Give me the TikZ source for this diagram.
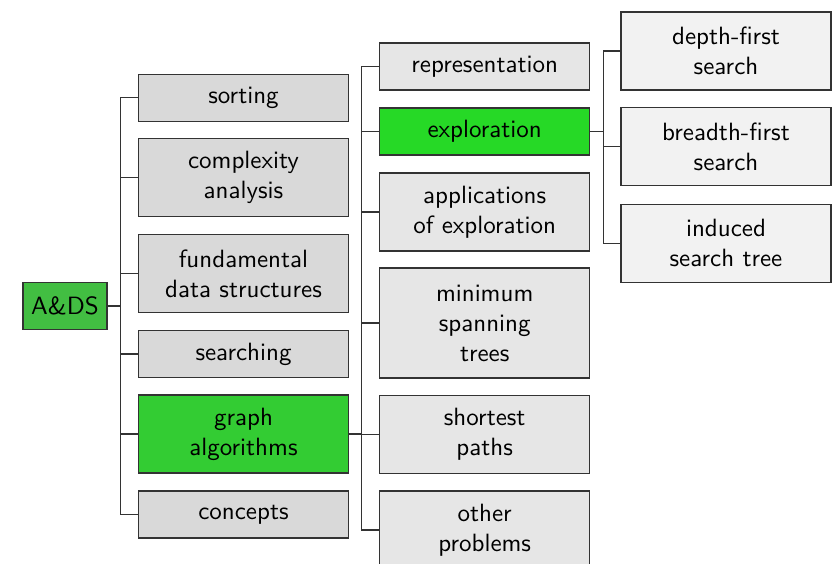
\documentclass[tikz,border=0pt]{standalone}
\usetikzlibrary{calc}
\definecolor{gA}{RGB}{66,190,66}
\definecolor{gB}{RGB}{51,204,51}
\definecolor{gC}{RGB}{38,217,38}
\definecolor{grA}{RGB}{217,217,217}
\definecolor{grB}{RGB}{230,230,230}
\definecolor{grC}{RGB}{242,242,242}
\begin{document}
\begin{tikzpicture}[x=0.4pt,y=-0.4pt,
  font=\sffamily\fontsize{10}{12}\selectfont,
  box/.style={draw=black!80,line width=0.45pt,inner sep=0pt,align=center,minimum width=84pt},
  one/.style={minimum height=18.8pt},
  two/.style={minimum height=31.2pt},
  three/.style={minimum height=44pt},
  link/.style={draw=black!80,line width=0.5pt}]
\useasboundingbox (0,0) rectangle (836,563);
% root
\node[box,one,fill=gA,minimum width=33.6pt] (ads) at (65,306) {A\&DS};
% column 1
\node[box,one,fill=grA] (sort) at (243.5,97.7) {sorting};
\node[box,two,fill=grA] (comp) at (243.5,177.7) {complexity\\analysis};
\node[box,two,fill=grA] (fund) at (243.5,273.5) {fundamental\\data structures};
\node[box,one,fill=grA] (srch) at (243.5,354) {searching};
\node[box,two,fill=gB] (graph) at (243.5,434) {graph\\algorithms};
\node[box,one,fill=grA] (conc) at (243.5,514.5) {concepts};
% column 2
\node[box,one,fill=grB] (repr) at (484.7,66.5) {representation};
\node[box,one,fill=gC] (expl) at (484.7,131.5) {exploration};
\node[box,two,fill=grB] (appl) at (484.7,212) {applications\\of exploration};
\node[box,three,fill=grB] (mst) at (484.7,323) {minimum\\spanning\\trees};
\node[box,two,fill=grB] (sp) at (484.7,434.5) {shortest\\paths};
\node[box,two,fill=grB] (oth) at (484.7,530) {other\\problems};
% column 3
\node[box,two,fill=grC] (dfs) at (726,51) {depth-first\\search};
\node[box,two,fill=grC] (bfs) at (726,146.7) {breadth-first\\search};
\node[box,two,fill=grC] (ist) at (726,243.3) {induced\\search tree};
% trunks
\coordinate (t1) at (120.5,0);
\coordinate (t2) at (361.5,0);
\coordinate (t3) at (603.5,0);
\draw[link] (ads.east) -- (ads.east -| t1);
\draw[link] (t1 |- sort.west) -- (t1 |- conc.west);
\foreach \n in {sort,comp,fund,srch,graph,conc}
  \draw[link] (t1 |- \n.west) -- (\n.west);
\draw[link] (graph.east) -- (graph.east -| t2);
\draw[link] (t2 |- repr.west) -- (t2 |- oth.west);
\foreach \n in {repr,expl,appl,mst,sp,oth}
  \draw[link] (t2 |- \n.west) -- (\n.west);
\draw[link] (expl.east) -- (expl.east -| t3);
\draw[link] (t3 |- dfs.west) -- (t3 |- ist.west);
\foreach \n in {dfs,bfs,ist}
  \draw[link] (t3 |- \n.west) -- (\n.west);
\end{tikzpicture}
\end{document}
